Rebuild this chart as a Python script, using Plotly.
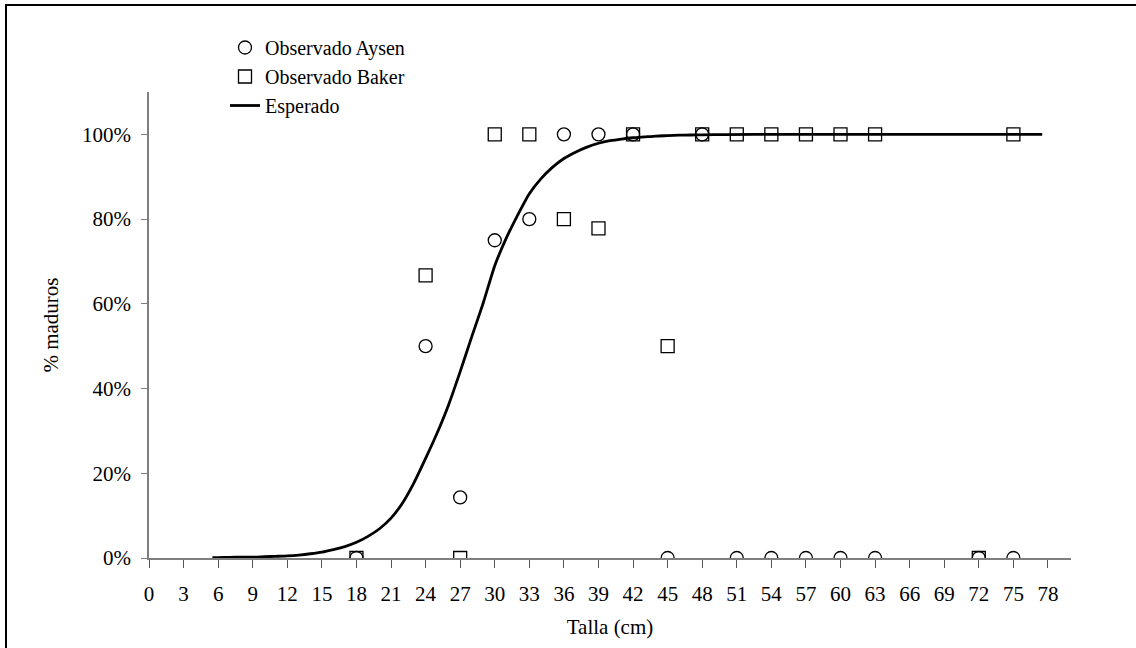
import plotly.graph_objects as go

# Observed data
tallas = [18, 24, 27, 30, 33, 36, 39, 42, 45, 48, 51, 54, 57, 60, 63, 72, 75]
aysen = [0.0, 0.50, 0.143, 0.75, 0.80, 1.0, 1.0, 1.0, 0.0, 1.0, 0.0, 0.0, 0.0, 0.0, 0.0, 0.0, 0.0]
baker = [0.0, 0.667, 0.0, 1.0, 1.0, 0.80, 0.778, 1.0, 0.50, 1.0, 1.0, 1.0, 1.0, 1.0, 1.0, 0.0, 1.0]

# Expected maturity curve
esp_x = [5.5, 6, 7, 8, 9, 10, 11, 12, 13, 14, 15, 16, 17, 18, 19, 20, 21, 22, 23, 24,
         25, 26, 27, 28, 29, 30, 31, 32, 33, 34, 35, 36, 37, 38, 39, 40, 41, 42, 43,
         44, 45, 46, 47, 48, 50, 55, 60, 65, 70, 75, 77.5]
esp_y = [0.001, 0.001, 0.0015, 0.002, 0.002, 0.003, 0.004, 0.005, 0.007, 0.010, 0.014,
         0.020, 0.027, 0.037, 0.051, 0.069, 0.094, 0.130, 0.178, 0.235, 0.295, 0.362,
         0.440, 0.522, 0.602, 0.690, 0.755, 0.810, 0.860, 0.895, 0.922, 0.943, 0.958,
         0.970, 0.979, 0.985, 0.989, 0.992, 0.994, 0.996, 0.997, 0.998, 0.9985, 0.999,
         0.9995, 1.0, 1.0, 1.0, 1.0, 1.0, 1.0]

x_ticks = list(range(0, 79, 3))
y_ticks = [0, 0.2, 0.4, 0.6, 0.8, 1.0]
y_ticktext = ["0%", "20%", "40%", "60%", "80%", "100%"]

FONT = "Liberation Serif"
W, H = 1136, 648
ML, MR, MT, MB = 149, 65, 92, 90
PW, PH = W - ML - MR, H - MT - MB

fig = go.Figure()
fig.add_trace(go.Scatter(
    x=tallas, y=aysen, mode="markers", name="Observado Aysen",
    marker=dict(symbol="circle-open", size=13, color="black", line=dict(width=1.3, color="black")),
))
fig.add_trace(go.Scatter(
    x=tallas, y=baker, mode="markers", name="Observado Baker",
    marker=dict(symbol="square-open", size=13, color="black", line=dict(width=1.3, color="black")),
))
fig.add_trace(go.Scatter(
    x=esp_x, y=esp_y, mode="lines", name="Esperado",
    line=dict(color="black", width=2.8, shape="spline", smoothing=0.6),
))

def px_to_paper_x(px):
    return (px - ML) / PW

def px_to_paper_y(py):
    return (H - MB - py) / PH

fig.update_layout(
    width=W, height=H,
    margin=dict(l=ML, r=MR, t=MT, b=MB, autoexpand=False),
    paper_bgcolor="white", plot_bgcolor="white",
    font=dict(family=FONT, size=21, color="black"),
    showlegend=True,
    legend=dict(
        x=px_to_paper_x(225), y=px_to_paper_y(28), xanchor="left", yanchor="top",
        bgcolor="rgba(0,0,0,0)", borderwidth=0,
        font=dict(family=FONT, size=20, color="black"),
        tracegroupgap=0,
    ),
    xaxis=dict(
        range=[0, 80], tickmode="array", tickvals=x_ticks, ticktext=[str(v) for v in x_ticks],
        showline=True, linecolor="#7f7f7f", linewidth=1.5,
        ticks="outside", ticklen=8, tickcolor="#555", tickwidth=1.3,
        showgrid=False, zeroline=False,
        title=dict(text="Talla (cm)", standoff=14, font=dict(family=FONT, size=21)),
        ticklabelstandoff=8,
    ),
    yaxis=dict(
        range=[0, 1.1], tickmode="array", tickvals=y_ticks, ticktext=y_ticktext,
        showline=True, linecolor="#7f7f7f", linewidth=1.5,
        ticks="outside", ticklen=6, tickcolor="#7f7f7f", tickwidth=1.3,
        showgrid=False, zeroline=False,
        title=dict(text="% maduros", standoff=18, font=dict(family=FONT, size=21)),
        ticklabelstandoff=6,
    ),
    shapes=[
        dict(type="rect", xref="paper", yref="paper",
             x0=px_to_paper_x(6), x1=px_to_paper_x(1145),
             y0=px_to_paper_y(655), y1=px_to_paper_y(5),
             line=dict(color="black", width=2), fillcolor="rgba(0,0,0,0)", layer="below"),
    ],
)

fig.write_html("out.html", config={"displayModeBar": False},
               post_script="document.body.style.margin='0px';")
